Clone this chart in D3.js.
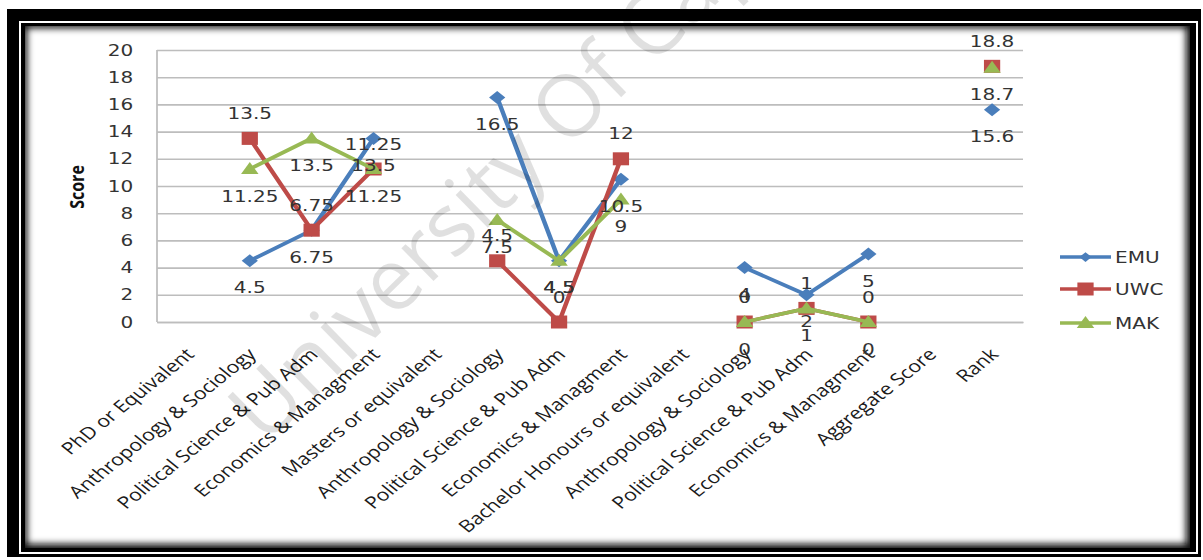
<!DOCTYPE html>
<html><head><meta charset="utf-8">
<script src="https://cdn.jsdelivr.net/npm/d3@7"></script>
<style>html,body{margin:0;padding:0;background:#fff;overflow:hidden}</style>
</head><body><svg id="c" width="1203" height="560"></svg>
<script>
// ---- data ----
const categories = ["PhD or Equivalent","Anthropology & Sociology","Political Science & Pub Adm","Economics & Managment",
  "Masters or equivalent","Anthropology & Sociology","Political Science & Pub Adm","Economics & Managment",
  "Bachelor Honours or equivalent","Anthropology & Sociology","Political Science & Pub Adm","Economics & Managment",
  "Aggregate Score","Rank"];
const emu = [null, 4.5, 6.75, 13.5, null, 16.5, 4.5, 10.5, null, 4, 2, 5, null, 15.6];
const uwc = [null, 13.5, 6.75, 11.25, null, 4.5, 0, 12, null, 0, 1, 0, null, 18.8];
const mak = [null, 11.25, 13.5, 11.25, null, 7.5, 4.5, 9, null, 0, 1, 0, null, 18.7];
const seriesNames = ["EMU","UWC","MAK"];
const yTicks = [0,2,4,6,8,10,12,14,16,18,20];
const yTitle = "Score";
const watermark = "University Of Cape Town";

// ---- styles ----
const colors = {EMU:"#4a7ebb", UWC:"#be4b48", MAK:"#98b954"};
const labelSide = {EMU:1, UWC:-1, MAK:1};
const shapes = {
  EMU:"M0,-6.5L6.5,0L0,6.5L-6.5,0Z",
  UWC:"M-6.5,-6.5H6.5V6.5H-6.5Z",
  MAK:"M0,-7L7,5L-7,5Z"
};
const S = 1.25; // horizontal stretch of the original picture

const svg = d3.select("#c");
const defs = svg.append("defs");
svg.append("rect").attr("width",1203).attr("height",560).attr("fill","#fff");

// ---- frame ----
svg.append("rect").attr("x",7).attr("y",9).attr("width",1194).attr("height",548).attr("fill","#000");
svg.append("rect").attr("x",20).attr("y",22).attr("width",1177).attr("height",531)
  .attr("fill","none").attr("stroke","#fff").attr("stroke-width",2);
const P = {x:25, y:26, w:1165, h:522};
defs.append("clipPath").attr("id","pclip").append("rect")
  .attr("x",P.x).attr("y",P.y).attr("width",P.w).attr("height",P.h);
const blur = defs.append("filter").attr("id","blur").attr("x","-5%").attr("y","-5%").attr("width","110%").attr("height","110%");
blur.append("feGaussianBlur").attr("stdDeviation",3.5);
svg.append("rect").attr("x",P.x).attr("y",P.y).attr("width",P.w).attr("height",P.h).attr("fill","#fff");
svg.append("g").attr("clip-path","url(#pclip)")
  .append("rect").attr("x",P.x-4).attr("y",P.y-4).attr("width",P.w+6).attr("height",P.h+6)
  .attr("fill","none").attr("stroke","#111").attr("stroke-width",12).attr("filter","url(#blur)");

// ---- chart (stretched group) ----
const g = svg.append("g").attr("transform",`scale(${S},1)`);
const x = d3.scalePoint().domain(d3.range(categories.length)).range([157/S, 1023/S]).padding(0.5);
const y = d3.scaleLinear().domain([0,20]).range([322,50]);
const [x0,x1] = [157/S, 1023/S];

// y axis with gridlines
const ya = g.append("g").attr("transform",`translate(${x0},0)`)
  .call(d3.axisLeft(y).tickValues(yTicks).tickSize(-(x1-x0)).tickPadding(19));
ya.select(".domain").remove();
ya.selectAll(".tick line").attr("stroke","#bdbdbd").attr("stroke-width",1.6);
ya.selectAll(".tick text").attr("font-family","DejaVu Sans").attr("font-size",16).attr("fill","#333");
g.append("line").attr("x1",x0).attr("x2",x0).attr("y1",50).attr("y2",322).attr("stroke","#bdbdbd").attr("stroke-width",1.4);

// x axis
const xa = g.append("g").attr("transform","translate(0,322)")
  .call(d3.axisBottom(x).tickSize(0).tickSizeOuter(0).tickFormat(i=>categories[i]));
xa.select(".domain").attr("stroke","#bdbdbd").attr("stroke-width",1.6);
xa.selectAll(".tick text")
  .attr("font-family","Open Sans").attr("font-size",17).attr("fill","#1a1a1a")
  .attr("text-anchor","end").attr("x",0).attr("y",0).attr("dy","0.71em")
  .attr("transform","translate(-3,25) rotate(-45)");

// y title
g.append("text").attr("transform",`translate(${77/S},187) rotate(-90)`)
  .attr("text-anchor","middle").attr("dy","0.35em")
  .attr("font-family","Open Sans").attr("font-weight","bold").attr("font-size",16).attr("fill","#111")
  .text(yTitle);

// series
const data = {EMU:emu, UWC:uwc, MAK:mak};
const line = d3.line().defined(d=>d!=null).x((d,i)=>x(i)).y(d=>y(d));
seriesNames.forEach(name=>{
  const vals = data[name];
  g.append("path").datum(vals).attr("d",line).attr("fill","none")
    .attr("stroke",colors[name]).attr("stroke-width",3.6).attr("stroke-linejoin","round");
  g.append("g").selectAll("path").data(vals.map((v,i)=>({v,i})).filter(d=>d.v!=null)).join("path")
    .attr("d",shapes[name]).attr("fill",colors[name])
    .attr("transform",d=>`translate(${x(d.i)},${y(d.v)})`);
});
// data labels
seriesNames.forEach(name=>{
  const vals = data[name];
  g.append("g").selectAll("text").data(vals.map((v,i)=>({v,i})).filter(d=>d.v!=null)).join("text")
    .attr("x",d=>x(d.i)).attr("y",d=>y(d.v)+(labelSide[name]>0?27:-25))
    .attr("dy","0.35em").attr("text-anchor","middle")
    .attr("font-family","DejaVu Sans").attr("font-size",16).attr("fill","#333")
    .text(d=>String(d.v));
});

// legend
const legY = [257,289,323];
const lg = g.append("g");
seriesNames.forEach((name,k)=>{
  const it = lg.append("g").attr("transform",`translate(0,${legY[k]})`);
  it.append("line").attr("x1",1060/S).attr("x2",1111/S).attr("stroke",colors[name]).attr("stroke-width",3.6);
  it.append("path").attr("d",shapes[name]).attr("fill",colors[name])
    .attr("transform",`translate(${1085.5/S},0) scale(${name==="EMU"?0.75:1})`);
  it.append("text").attr("x",1115/S).attr("dy","0.35em")
    .attr("font-family","DejaVu Sans").attr("font-size",16).attr("fill","#333").text(name);
});

// watermark
svg.append("text").attr("transform","translate(265,446) rotate(-44.4)")
  .attr("font-family","Open Sans").attr("font-size",86).attr("fill","#000").attr("fill-opacity",0.12)
  .attr("pointer-events","none").text(watermark);
</script></body></html>
